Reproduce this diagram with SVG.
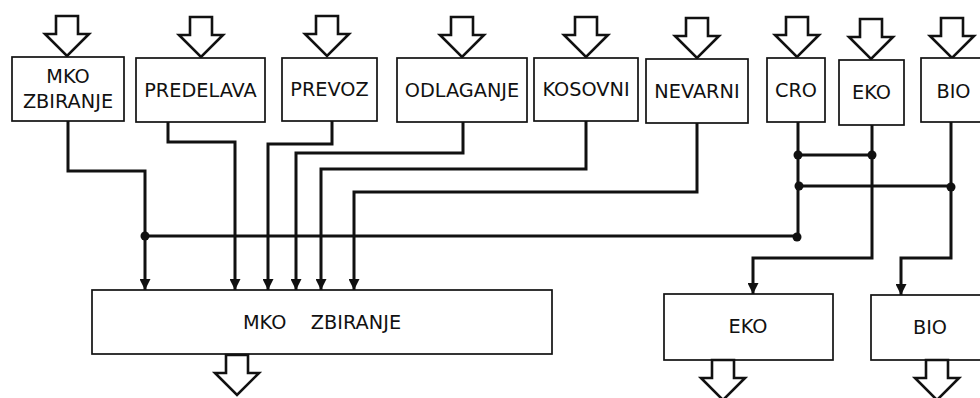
<svg xmlns="http://www.w3.org/2000/svg" xmlns:xlink="http://www.w3.org/1999/xlink" width="980" height="398" viewBox="0 0 980 398">
  <style>
    .box { fill: #fff; stroke: #111; stroke-width: 1.7; }
    .lbl { font-family: "DejaVu Sans", "Liberation Sans", sans-serif; font-size: 19.3px; fill: #111; text-anchor: middle; white-space: pre; }
    .flow { fill: #fff; stroke: #111; stroke-width: 2.6; stroke-linejoin: miter; }
    .wire { fill: none; stroke: #111; stroke-width: 3; stroke-linejoin: miter; }
    .dot { fill: #111; }
  </style>
  <defs>
    <!-- hollow block arrow, origin at the top-centre of the shaft -->
    <path id="blockArrow" class="flow" d="M-11,0 H11 V18 H22 L0,40 L-22,18 H-11 Z"/>
    <marker id="tip" viewBox="0 0 10 10" refX="10" refY="5" markerWidth="12" markerHeight="11" markerUnits="userSpaceOnUse" orient="auto">
      <path d="M0,0 L10,5 L0,10 Z" fill="#111"/>
    </marker>
  </defs>

  <rect width="980" height="398" fill="#fff"/>

  <!-- incoming block arrows -->
  <g id="inputs">
    <use xlink:href="#blockArrow" x="67" y="16"/>
    <use xlink:href="#blockArrow" x="201" y="17"/>
    <use xlink:href="#blockArrow" x="327" y="16"/>
    <use xlink:href="#blockArrow" x="462" y="17"/>
    <use xlink:href="#blockArrow" x="586" y="17"/>
    <use xlink:href="#blockArrow" x="697" y="18"/>
    <use xlink:href="#blockArrow" x="797" y="17"/>
    <use xlink:href="#blockArrow" x="871" y="19"/>
    <use xlink:href="#blockArrow" x="952" y="18"/>
  </g>

  <!-- connectors -->
  <g id="connectors">
    <path class="wire" d="M68,121 V171 H145 V290" marker-end="url(#tip)"/>
    <path class="wire" d="M168,122 V142 H235 V290" marker-end="url(#tip)"/>
    <path class="wire" d="M332,121 V144 H268 V290" marker-end="url(#tip)"/>
    <path class="wire" d="M463,122 V153 H296 V290" marker-end="url(#tip)"/>
    <path class="wire" d="M586,121 V169 H321 V290" marker-end="url(#tip)"/>
    <path class="wire" d="M697,123 V192 H354 V290" marker-end="url(#tip)"/>
    <path class="wire" d="M145,236 H797"/>
    <path class="wire" d="M798,122 V236"/>
    <path class="wire" d="M798,155 H871"/>
    <path class="wire" d="M798,186 H951"/>
    <path class="wire" d="M872,125 V258 H753 V294" marker-end="url(#tip)"/>
    <path class="wire" d="M951,122 V258 H901 V295" marker-end="url(#tip)"/>
    <circle class="dot" cx="145" cy="236" r="4.5"/>
    <circle class="dot" cx="797" cy="237" r="4.5"/>
    <circle class="dot" cx="798" cy="155" r="4.5"/>
    <circle class="dot" cx="872" cy="155" r="4.5"/>
    <circle class="dot" cx="799" cy="186" r="4.5"/>
    <circle class="dot" cx="951" cy="187" r="4.5"/>
  </g>

  <!-- source nodes -->
  <g id="node-mko-zbiranje-src">
    <rect class="box" x="12" y="57" width="112" height="64"/>
    <text class="lbl" x="68" y="83">MKO</text>
    <text class="lbl" x="68" y="108">ZBIRANJE</text>
  </g>
  <g id="node-predelava">
    <rect class="box" x="136" y="58" width="129" height="64"/>
    <text class="lbl" x="200.5" y="97">PREDELAVA</text>
  </g>
  <g id="node-prevoz">
    <rect class="box" x="282" y="58" width="95" height="63"/>
    <text class="lbl" x="329.5" y="96">PREVOZ</text>
  </g>
  <g id="node-odlaganje">
    <rect class="box" x="397" y="58" width="130" height="64"/>
    <text class="lbl" x="462" y="97">ODLAGANJE</text>
  </g>
  <g id="node-kosovni">
    <rect class="box" x="534" y="58" width="104" height="63"/>
    <text class="lbl" x="586" y="96">KOSOVNI</text>
  </g>
  <g id="node-nevarni">
    <rect class="box" x="646" y="59" width="102" height="64"/>
    <text class="lbl" x="697" y="98">NEVARNI</text>
  </g>
  <g id="node-cro">
    <rect class="box" x="767" y="58" width="58" height="64"/>
    <text class="lbl" x="796" y="97">CRO</text>
  </g>
  <g id="node-eko-src">
    <rect class="box" x="839" y="60" width="65" height="65"/>
    <text class="lbl" x="871.5" y="99">EKO</text>
  </g>
  <g id="node-bio-src">
    <rect class="box" x="921" y="58" width="70" height="64"/>
    <text class="lbl" x="953.5" y="98">BIO</text>
  </g>

  <!-- target nodes -->
  <g id="node-mko-zbiranje">
    <rect class="box" x="92" y="290" width="460" height="64"/>
    <text class="lbl" x="322" y="329">MKO    ZBIRANJE</text>
    <use xlink:href="#blockArrow" x="237" y="355"/>
  </g>
  <g id="node-eko">
    <rect class="box" x="664" y="294" width="169" height="66"/>
    <text class="lbl" x="748" y="333">EKO</text>
    <use xlink:href="#blockArrow" x="723" y="360"/>
  </g>
  <g id="node-bio">
    <rect class="box" x="871" y="295" width="120" height="65"/>
    <text class="lbl" x="930" y="334">BIO</text>
    <use xlink:href="#blockArrow" x="937" y="360"/>
  </g>
</svg>
